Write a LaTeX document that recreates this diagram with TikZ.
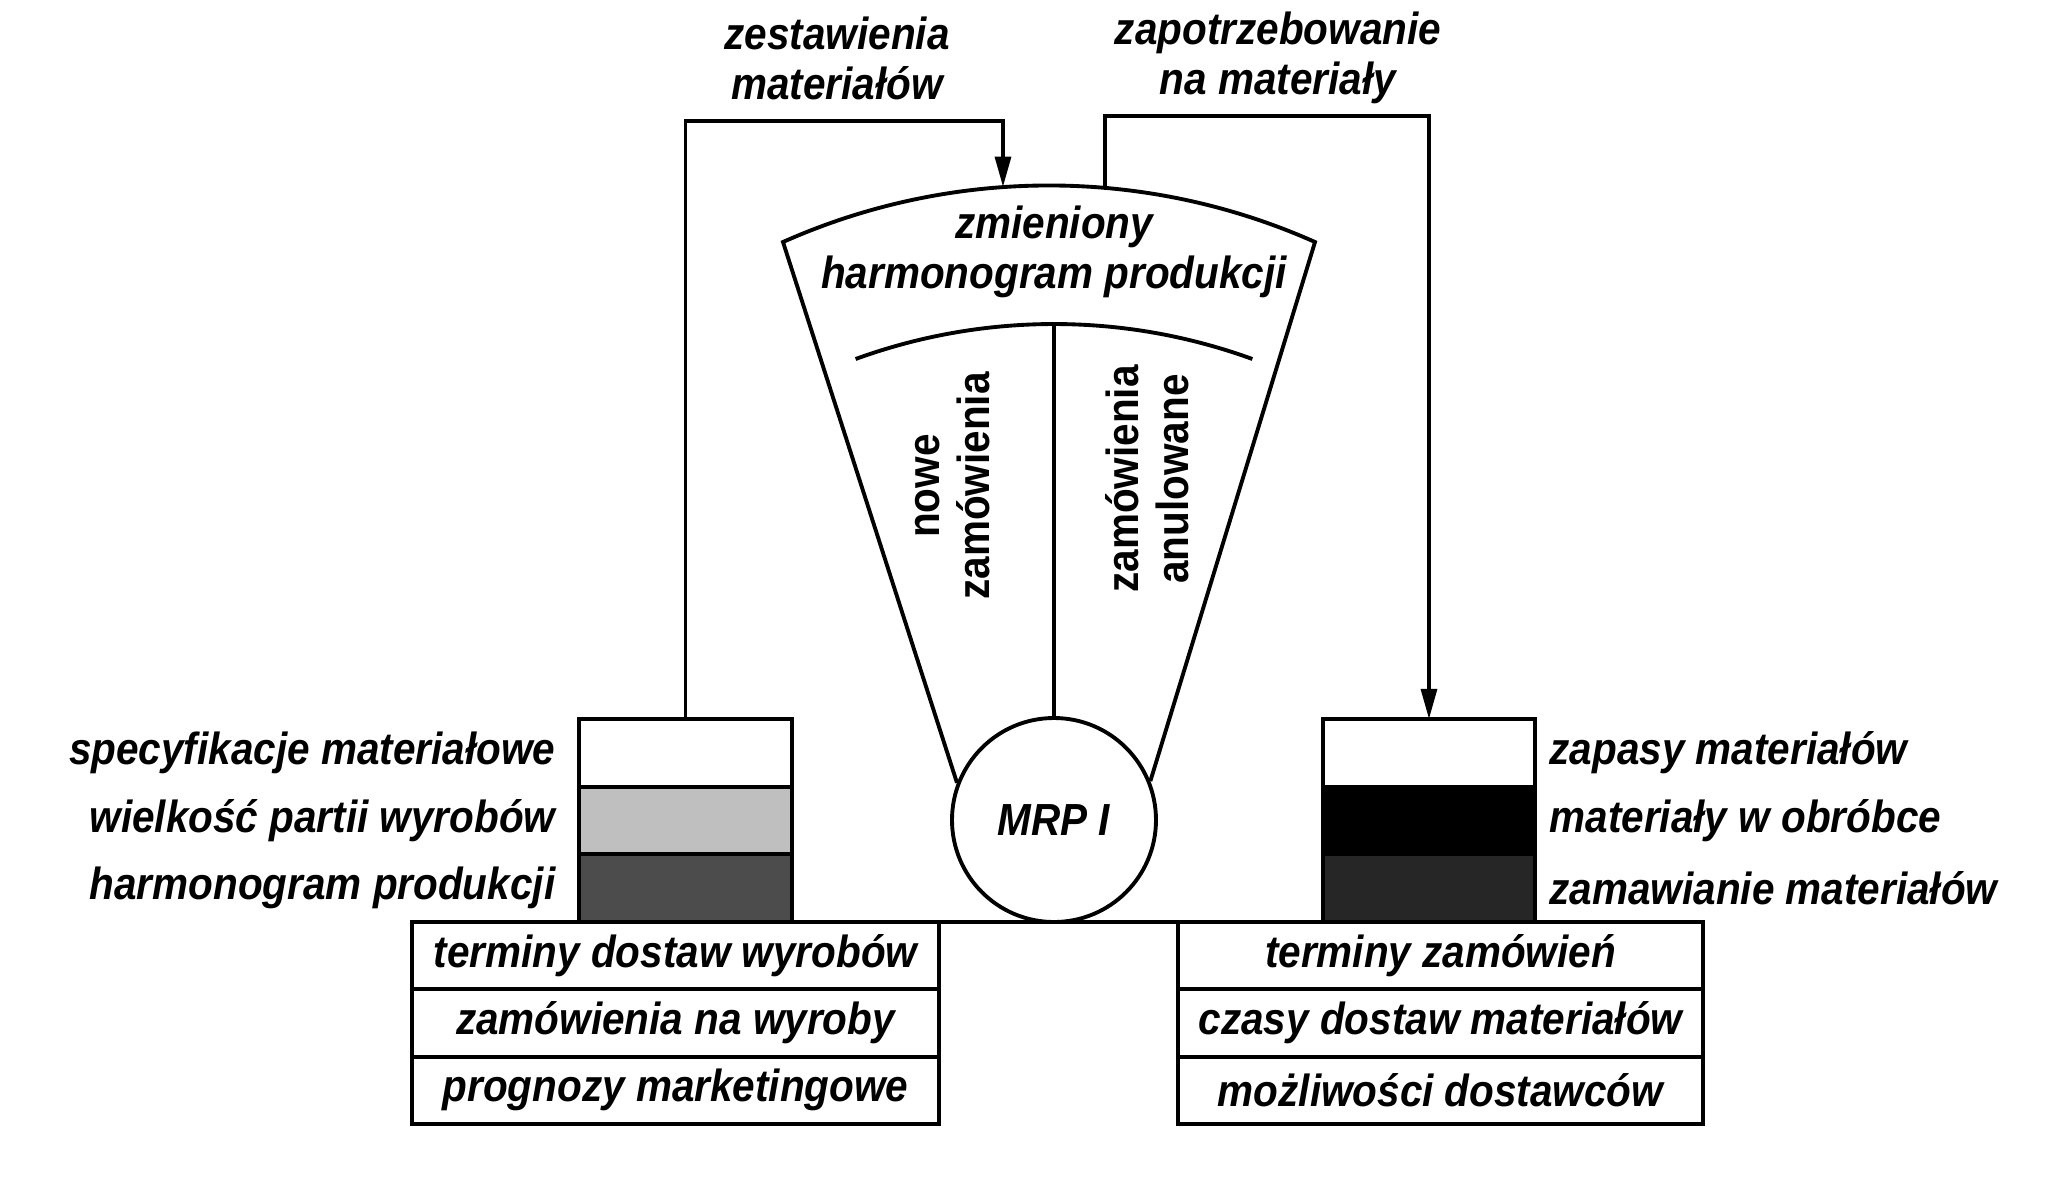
\documentclass[tikz,border=0pt]{standalone}
\usepackage{fontspec}
\setmainfont{Liberation Sans}[FakeStretch=0.9]
\usetikzlibrary{arrows.meta,positioning}
\tikzset{
  txt/.style={font=\fontsize{12.8}{14.2}\selectfont\bfseries\itshape, inner sep=0pt, align=center},
  vtxt/.style={font=\fontsize{12.8}{14.2}\selectfont\bfseries, inner sep=0pt, align=center, rotate=90},
  row/.style={draw, line width=1.2pt, minimum height=0.673cm, inner sep=0pt, outer sep=0pt, txt},
  stackcell/.style={draw, line width=1.2pt, minimum width=2.13cm, minimum height=0.677cm, inner sep=0pt, outer sep=0pt},
  fan/.style={line width=1.1pt},
  link/.style={line width=0.9pt}
}
\begin{document}
\begin{tikzpicture}[>={Triangle[length=3mm,width=1.6mm]}]
  \useasboundingbox (0,0) rectangle (20.57,-11.77);

  % tables at the bottom
  \node[row, minimum width=5.27cm] (lt1) at (6.755,-9.557) {terminy dostaw wyrobów};
  \node[row, minimum width=5.27cm, below=0pt of lt1] (lt2) {zamówienia na wyroby};
  \node[row, minimum width=5.27cm, below=0pt of lt2] (lt3) {prognozy marketingowe};
  \node[row, minimum width=5.25cm] (rt1) at (14.405,-9.557) {terminy zamówień};
  \node[row, minimum width=5.25cm, below=0pt of rt1] (rt2) {czasy dostaw materiałów};
  \node[row, minimum width=5.25cm, below=0pt of rt2] (rt3) {możliwości dostawców};
  \draw[line width=1.2pt] (lt1.north west) -- (rt1.north east);

  % stacks
  \node[stackcell, fill=white] (ls1) at (6.855,-7.528) {};
  \node[stackcell, fill=black!25, below=0pt of ls1] (ls2) {};
  \node[stackcell, fill=black!70, below=0pt of ls2] (ls3) {};
  \node[stackcell, fill=white, minimum width=2.12cm] (rs1) at (14.29,-7.528) {};
  \node[stackcell, fill=black, minimum width=2.12cm, below=0pt of rs1] (rs2) {};
  \node[stackcell, fill=black!85, minimum width=2.12cm, below=0pt of rs2] (rs3) {};
  \node[txt, left=0.23cm of ls1] (l1) {specyfikacje materiałowe};
  \node[txt, left=0.23cm of ls2] (l2) {wielkość partii wyrobów};
  \node[txt, left=0.23cm of ls3] (l3) {harmonogram produkcji};
  \node[txt, right=0.14cm of rs1] (r1) {zapasy materiałów};
  \node[txt, right=0.14cm of rs2] (r2) {materiały w obróbce};
  \node[txt, right=0.14cm of rs3] (r3) {zamawianie materiałów};

  % MRP and the fan
  \node[draw, circle, line width=1.1pt, minimum size=2.04cm, txt] (mrp) at (10.54,-8.20) {MRP I};
  \coordinate (fl) at (7.83,-2.42);
  \draw[fan] (mrp.159) -- (fl) arc[start angle=114, end angle=66, radius=6.54] -- (mrp.22);
  \draw[fan] (8.556,-3.59) arc[start angle=110, end angle=70, radius=5.8];
  \coordinate (ia) at (10.54,-3.22);
  \draw[fan] (ia) -- (mrp.north);
  \node[txt] (zh) at (10.54,-2.52) {zmieniony\\harmonogram produkcji};
  \node[vtxt] (nz) at (9.525,-4.86) {nowe\\zamówienia};
  \node[vtxt] (za) at (11.47,-4.79) {zamówienia\\anulowane};

  % connectors
  \node[txt] (zm) at (8.37,-0.58) {zestawienia\\materiałów};
  \node[txt] (zp) at (12.78,-0.58) {zapotrzebowanie\\na materiały};
  \coordinate (ain) at (10.03,-1.867);
  \coordinate (ltop) at (10.03,-1.21);
  \draw[link, ->] (ls1.north) |- (ltop) -- (ain);
  \coordinate (aout) at (11.05,-1.873);
  \coordinate (rtop) at (11.05,-1.16);
  \draw[link, ->] (aout) -- (rtop) -| (rs1.north);
\end{tikzpicture}
\end{document}
